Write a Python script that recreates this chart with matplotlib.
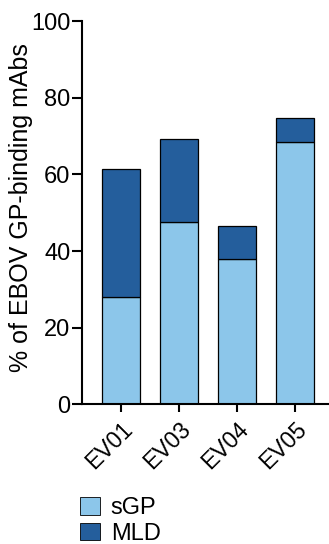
import numpy as np
import matplotlib.pyplot as plt
from matplotlib.patches import Patch

plt.rcParams['font.family'] = ['Liberation Sans', 'DejaVu Sans']

donors = ['EV01', 'EV03', 'EV04', 'EV05']
sgp = [28.1, 47.5, 37.8, 68.4]
mld = [33.3, 21.7, 8.8, 6.2]

c_sgp = '#8cc6ea'
c_mld = '#245e9c'

fig = plt.figure(figsize=(3.29, 5.44), dpi=100)
ax = fig.add_axes([0.248, 0.257, 0.752, 0.704])

x = np.arange(len(donors))
width = 0.66
ax.bar(x, sgp, width, color=c_sgp, edgecolor='black', linewidth=0.9, zorder=2)
ax.bar(x, mld, width, bottom=sgp, color=c_mld, edgecolor='black', linewidth=0.9, zorder=2)

ax.set_xlim(-0.677, 3.58)
ax.set_ylim(0, 100)
ax.set_yticks(np.arange(0, 101, 20))
ax.set_xticks(x)
ax.set_xticklabels(donors, rotation=45, ha='right', rotation_mode='anchor', fontsize=16.5)
ax.tick_params(axis='y', labelsize=17, length=7, width=1.5, pad=1)
ax.tick_params(axis='x', length=6, width=1.5, pad=4)
for side in ['top', 'right']:
    ax.spines[side].set_visible(False)
for side in ['left', 'bottom']:
    ax.spines[side].set_linewidth(1.5)
ax.set_ylabel('% of EBOV GP-binding mAbs', fontsize=18, va='center')
ax.yaxis.set_label_coords(-0.243, 0.514)

handles = [Patch(facecolor=c_sgp, edgecolor='black', linewidth=0.6),
           Patch(facecolor=c_mld, edgecolor='black', linewidth=0.6)]
fig.legend(handles, ['sGP', 'MLD'], loc='upper left', bbox_to_anchor=(0.243, 0.086),
           frameon=False, fontsize=17, handlelength=0.85, handleheight=0.75,
           handletextpad=0.45, labelspacing=0.15, borderpad=0, borderaxespad=0)

fig.savefig('out.png', dpi=100)
